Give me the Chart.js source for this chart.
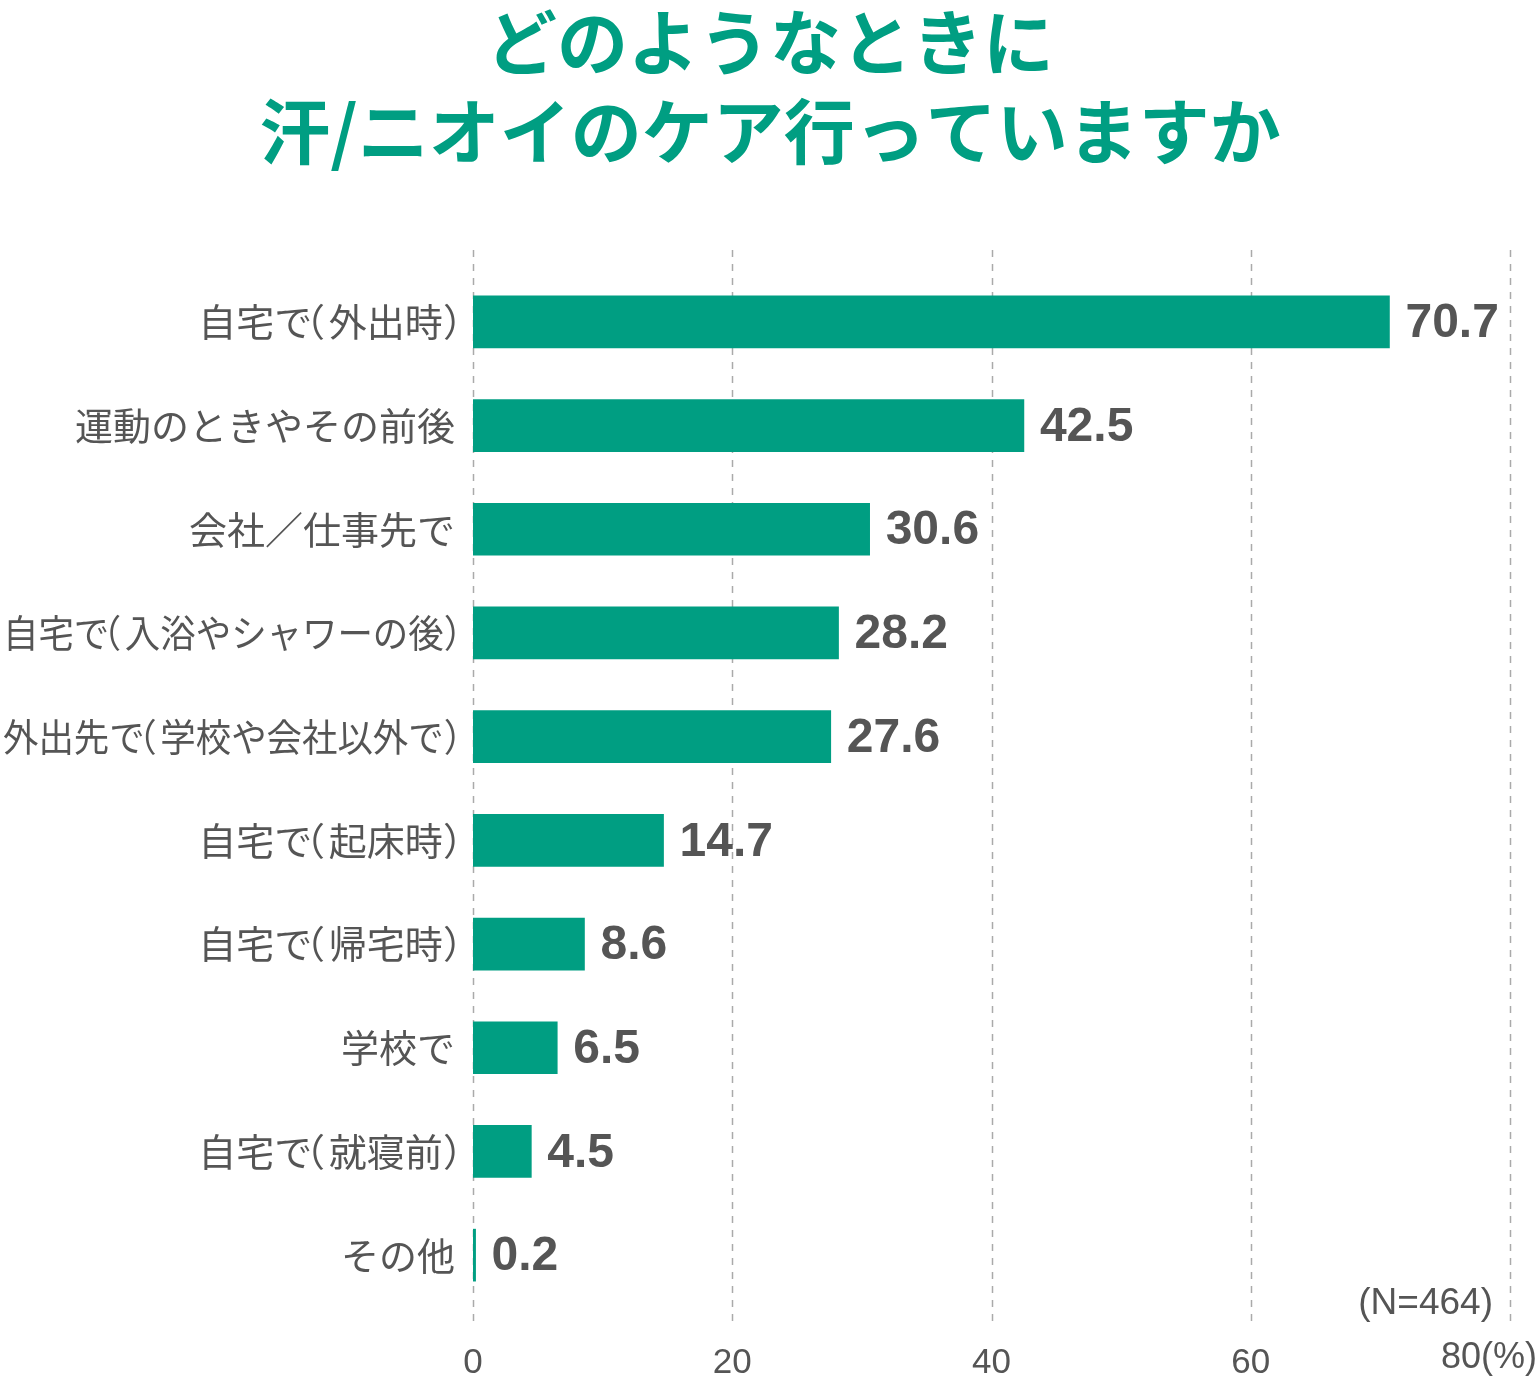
<!DOCTYPE html>
<html lang="ja">
<head>
  <meta charset="UTF-8">
  <title>汗/ニオイのケア</title>
  <style>
    * {
      margin: 0;
      padding: 0;
      box-sizing: border-box;
    }

    body {
      width: 1540px;
      height: 1381px;
      background: #fff;
      overflow: hidden;
    }

    #chart-container {
      position: relative;
      width: 1540px;
      height: 1381px;
    }
  </style>
</head>
<body>
  <div id="chart-container">
    <canvas id="chart"></canvas>
  </div>

  <script src="https://cdn.jsdelivr.net/npm/chart.js"></script>
  <script>
    const titleLines = ['どのようなときに', '汗/ニオイのケア行っていますか'];
    const categories = [
      '自宅で（外出時）',
      '運動のときやその前後',
      '会社／仕事先で',
      '自宅で（入浴やシャワーの後）',
      '外出先で（学校や会社以外で）',
      '自宅で（起床時）',
      '自宅で（帰宅時）',
      '学校で',
      '自宅で（就寝前）',
      'その他'
    ];
    const values = [70.7, 42.5, 30.6, 28.2, 27.6, 14.7, 8.6, 6.5, 4.5, 0.2];
    const xTicks = [0, 20, 40, 60, 80];
    const unitLabel = '(%)';
    const sampleNote = '(N=464)';

    const green = '#009e82';
    const grey = '#555555';
    const jpFont = '"Noto Sans CJK JP", "Noto Sans", sans-serif';
    const numFont = '"Liberation Sans", Arial, sans-serif';

    // draw a label with tight (proportional) full-width brackets,
    // right aligned at rightX and squeezed if wider than maxW
    function drawCategory(ctx, text, rightX, y, size, maxW) {
      const parts = [];
      let total = 0;
      for (const ch of text) {
        const m = ctx.measureText(ch);
        if (ch === '（' || ch === '）') {
          const inkL = -m.actualBoundingBoxLeft;
          const inkW = m.actualBoundingBoxRight + m.actualBoundingBoxLeft;
          const before = ch === '（' ? 0.02 * size : 0.03 * size;
          const after = ch === '（' ? 0.13 * size : 0;
          parts.push({ ch, dx: before - inkL, adv: before + inkW + after });
          total += before + inkW + after;
        } else {
          parts.push({ ch, dx: 0, adv: m.width });
          total += m.width;
        }
      }
      const sx = total > maxW ? maxW / total : 1;
      ctx.save();
      ctx.translate(rightX - total * sx, y);
      ctx.scale(sx, 1);
      let x = 0;
      parts.forEach(p => {
        ctx.fillText(p.ch, x + p.dx, 0);
        x += p.adv;
      });
      ctx.restore();
    }

    // dashed vertical grid lines, a bit longer than the plot area
    const gridPlugin = {
      id: 'dashedGrid',
      beforeDatasetsDraw(chart) {
        const { ctx, chartArea, scales } = chart;
        ctx.save();
        ctx.strokeStyle = '#aaaaaa';
        ctx.lineWidth = 1.5;
        ctx.setLineDash([7, 7]);
        scales.x.ticks.forEach(t => {
          const px = Math.round(scales.x.getPixelForValue(t.value)) + 0.5;
          ctx.beginPath();
          ctx.moveTo(px, chartArea.top - 20);
          ctx.lineTo(px, chartArea.bottom + 20);
          ctx.stroke();
        });
        ctx.restore();
      }
    };

    // title, category labels, value labels, last tick with unit, sample size note
    const labelPlugin = {
      id: 'labels',
      afterDraw(chart) {
        const { ctx, chartArea, scales } = chart;
        const meta = chart.getDatasetMeta(0);
        ctx.save();

        ctx.fillStyle = green;
        ctx.font = 'bold 71px ' + jpFont;
        ctx.textAlign = 'center';
        ctx.textBaseline = 'middle';
        ctx.fillText(titleLines[0], chart.width / 2, 42);
        ctx.fillText(titleLines[1], chart.width / 2, 131);

        ctx.fillStyle = grey;
        const catSize = 38;
        ctx.font = catSize + 'px ' + jpFont;
        ctx.textAlign = 'left';
        categories.forEach((c, i) => {
          drawCategory(ctx, c, chartArea.left - 18, scales.y.getPixelForValue(i), catSize, chartArea.left - 21);
        });

        ctx.font = 'bold 48px ' + numFont;
        meta.data.forEach((bar, i) => {
          ctx.fillText(values[i].toFixed(1), bar.x + 16, bar.y + 2);
        });

        const last = xTicks[xTicks.length - 1];
        ctx.font = '36px ' + numFont;
        ctx.textAlign = 'right';
        ctx.fillText(last + unitLabel, scales.x.getPixelForValue(last) + 27, chartArea.bottom + 51);

        ctx.font = '37px ' + numFont;
        ctx.fillText(sampleNote, scales.x.getPixelForValue(last) - 17, chartArea.bottom - 3);
        ctx.restore();
      }
    };

    new Chart(document.getElementById('chart'), {
      type: 'bar',
      data: {
        labels: categories,
        datasets: [{
          data: values,
          backgroundColor: green,
          borderWidth: 0,
          barThickness: 52
        }]
      },
      options: {
        indexAxis: 'y',
        responsive: true,
        maintainAspectRatio: false,
        animation: false,
        layout: {
          padding: { left: 0, right: 30, top: 270, bottom: 0 }
        },
        scales: {
          x: {
            type: 'linear',
            min: 0,
            max: 80,
            afterBuildTicks: s => { s.ticks = xTicks.map(v => ({ value: v })); },
            afterFit: s => { s.height = 74; },
            grid: { display: false, drawTicks: true, tickLength: 35 },
            border: { display: false },
            ticks: {
              padding: 0,
              color: grey,
              font: { family: numFont, size: 35 },
              maxRotation: 0,
              callback: v => (v === xTicks[xTicks.length - 1] ? '' : v)
            }
          },
          y: {
            afterFit: s => { s.width = 473; },
            grid: { display: false, drawTicks: false },
            border: { display: false },
            ticks: { display: false }
          }
        },
        plugins: {
          legend: { display: false },
          tooltip: { enabled: false },
          title: { display: false }
        }
      },
      plugins: [gridPlugin, labelPlugin]
    });
  </script>
</body>
</html>
